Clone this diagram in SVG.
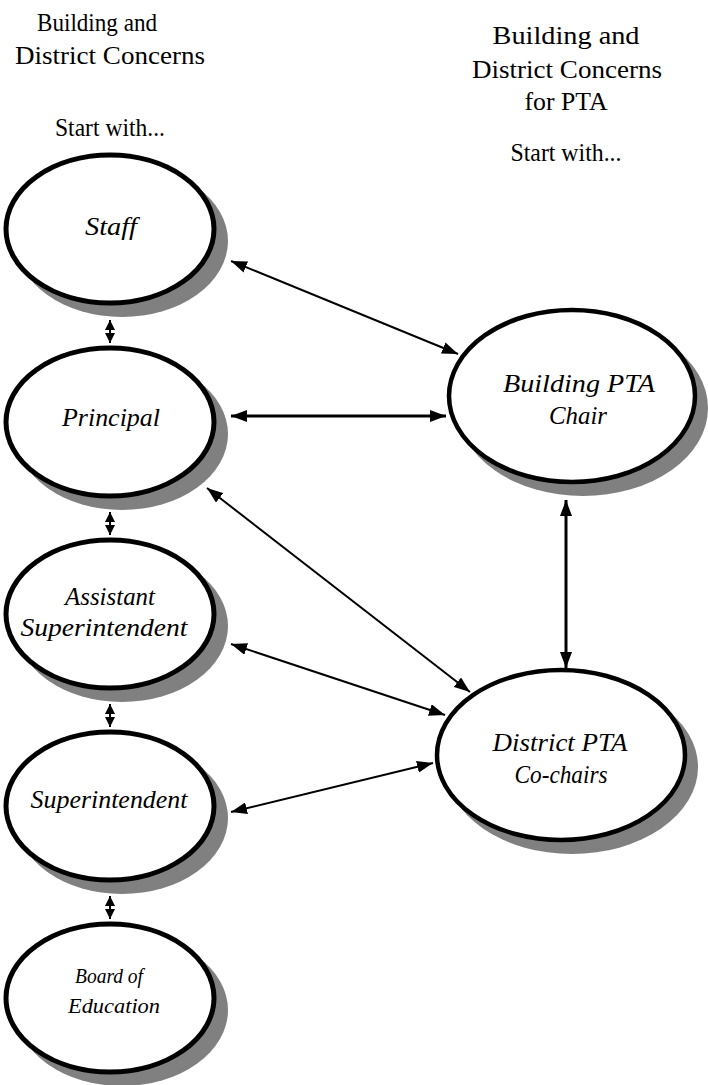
<svg xmlns="http://www.w3.org/2000/svg" width="708" height="1085" viewBox="0 0 708 1085">
<style>
.hd{font-family:"Liberation Serif",serif;font-size:25px;fill:#000;text-anchor:middle}
.lb{font-family:"Liberation Serif",serif;font-style:italic;font-size:26px;fill:#000;text-anchor:middle}
.sm{font-size:22px}
.sh{fill:#808080}
.el{fill:#fff;stroke:#000;stroke-width:5}
.er{fill:#fff;stroke:#000;stroke-width:4.5}
.cn{stroke:#000;stroke-width:2;fill:none}
.cn3{stroke:#000;stroke-width:3;fill:none}
.dm{stroke:#000;stroke-width:2;fill:none}
</style>
<defs>
<marker id="ah" markerUnits="userSpaceOnUse" markerWidth="16" markerHeight="12" refX="16" refY="6" orient="auto-start-reverse">
<path d="M0,0 L16,6 L0,12 Z" fill="#000"/>
</marker>
<marker id="ahs" markerUnits="userSpaceOnUse" markerWidth="10" markerHeight="10" refX="10" refY="5" orient="auto-start-reverse">
<path d="M0,0 L10,5 L0,10 Z" fill="#000"/>
</marker>
</defs>

<g id="titles">
<text class="hd" x="97" y="31" textLength="120" lengthAdjust="spacingAndGlyphs">Building and</text>
<text class="hd" x="110" y="64" textLength="190" lengthAdjust="spacingAndGlyphs">District Concerns</text>
<text class="hd" x="110" y="136" font-size="22" textLength="110" lengthAdjust="spacingAndGlyphs">Start with...</text>
<text class="hd" x="566" y="44" textLength="147" lengthAdjust="spacingAndGlyphs">Building and</text>
<text class="hd" x="567" y="78" textLength="190" lengthAdjust="spacingAndGlyphs">District Concerns</text>
<text class="hd" x="566" y="110" textLength="83" lengthAdjust="spacingAndGlyphs">for PTA</text>
<text class="hd" x="566" y="161" font-size="22" textLength="111" lengthAdjust="spacingAndGlyphs">Start with...</text>
</g>

<g id="connectors">
<line class="cn" x1="231" y1="261" x2="458" y2="354" marker-start="url(#ah)" marker-end="url(#ah)"/>
<line class="cn3" x1="231" y1="416" x2="446" y2="416" marker-start="url(#ah)" marker-end="url(#ah)"/>
<line class="cn" x1="207" y1="488" x2="470" y2="692" marker-start="url(#ah)" marker-end="url(#ah)"/>
<line class="cn" x1="231" y1="644" x2="445" y2="715" marker-start="url(#ah)" marker-end="url(#ah)"/>
<line class="cn" x1="231" y1="812" x2="433" y2="763" marker-start="url(#ah)" marker-end="url(#ah)"/>
<line class="cn3" x1="566" y1="500" x2="566" y2="668" marker-start="url(#ah)" marker-end="url(#ah)"/>
<line class="dm" x1="110" y1="320" x2="110" y2="343" marker-start="url(#ahs)" marker-end="url(#ahs)"/>
<line class="dm" x1="110" y1="512" x2="110" y2="535" marker-start="url(#ahs)" marker-end="url(#ahs)"/>
<line class="dm" x1="110" y1="704" x2="110" y2="727" marker-start="url(#ahs)" marker-end="url(#ahs)"/>
<line class="dm" x1="110" y1="896" x2="110" y2="919" marker-start="url(#ahs)" marker-end="url(#ahs)"/>
</g>

<g id="staff">
<ellipse class="sh" cx="122" cy="241" rx="106" ry="76"/>
<ellipse class="el" cx="110" cy="229" rx="104" ry="74"/>
<text class="lb" x="111" y="235" textLength="52" lengthAdjust="spacingAndGlyphs">Staff</text>
</g>

<g id="principal">
<ellipse class="sh" cx="122" cy="434" rx="106" ry="76"/>
<ellipse class="el" cx="110" cy="422" rx="104" ry="74"/>
<text class="lb" x="111" y="426" textLength="98" lengthAdjust="spacingAndGlyphs">Principal</text>
</g>

<g id="asst">
<ellipse class="sh" cx="122" cy="626" rx="106" ry="76"/>
<ellipse class="el" cx="110" cy="614" rx="104" ry="74"/>
<text class="lb" x="110" y="605" font-size="23" textLength="90" lengthAdjust="spacingAndGlyphs">Assistant</text>
<text class="lb" x="104" y="636" font-size="23" textLength="167" lengthAdjust="spacingAndGlyphs">Superintendent</text>
</g>

<g id="super">
<ellipse class="sh" cx="122" cy="818" rx="106" ry="76"/>
<ellipse class="el" cx="110" cy="806" rx="104" ry="74"/>
<text class="lb" x="109" y="808" font-size="23" textLength="157" lengthAdjust="spacingAndGlyphs">Superintendent</text>
</g>

<g id="board">
<ellipse class="sh" cx="122" cy="1010" rx="106" ry="76"/>
<ellipse class="el" cx="110" cy="998" rx="104" ry="74"/>
<text class="lb sm" x="109" y="983" textLength="68" lengthAdjust="spacingAndGlyphs">Board of</text>
<text class="lb sm" x="114" y="1013" textLength="92" lengthAdjust="spacingAndGlyphs">Education</text>
</g>

<g id="bpta">
<ellipse class="sh" cx="583" cy="408" rx="125" ry="88"/>
<ellipse class="er" cx="572" cy="396" rx="123" ry="86"/>
<text class="lb" x="579" y="392" font-size="27" textLength="152" lengthAdjust="spacingAndGlyphs">Building PTA</text>
<text class="lb" x="578" y="424" font-size="27" textLength="58" lengthAdjust="spacingAndGlyphs">Chair</text>
</g>

<g id="dpta">
<ellipse class="sh" cx="572" cy="767" rx="126" ry="87"/>
<ellipse class="er" cx="561" cy="755" rx="124" ry="85"/>
<text class="lb" x="560" y="751" font-size="27" textLength="135" lengthAdjust="spacingAndGlyphs">District PTA</text>
<text class="lb" x="561" y="783" font-size="27" textLength="93" lengthAdjust="spacingAndGlyphs">Co-chairs</text>
</g>
</svg>
